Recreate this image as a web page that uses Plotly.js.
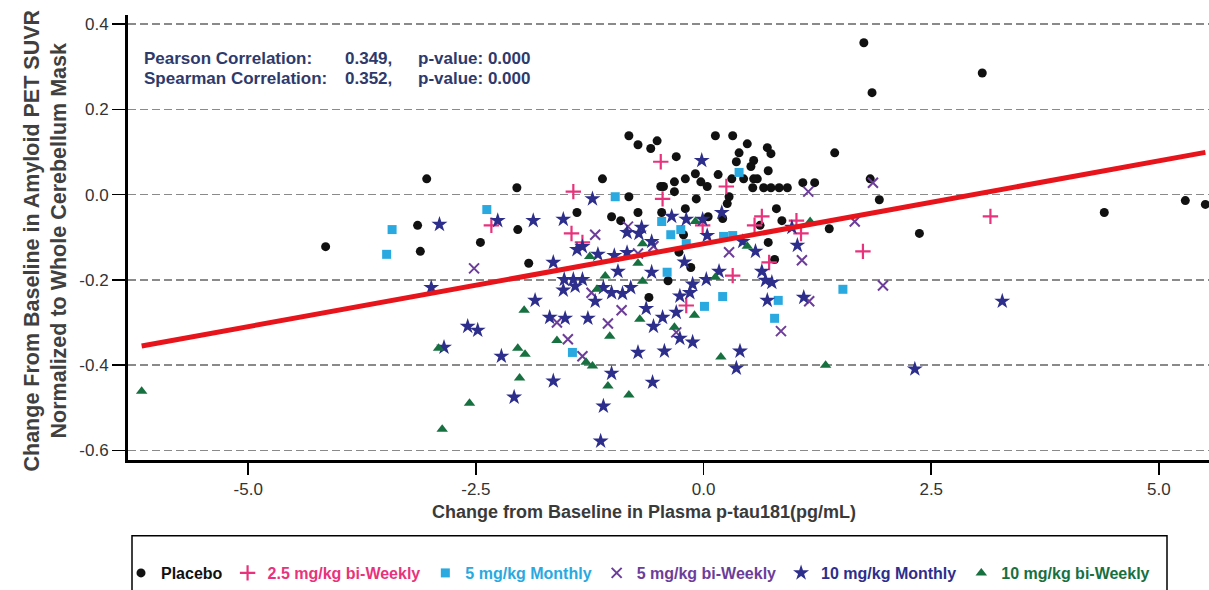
<!DOCTYPE html>
<html>
<head>
<meta charset="utf-8">
<script src="https://cdn.plot.ly/plotly-3.0.1.min.js"></script>
<style>html,body{margin:0;padding:0;background:#fff;}#chart{width:1209px;height:590px;}</style>
</head>
<body>
<div id="chart"></div>
<script>
// ---- Data ----
const seriesNames = ["Placebo", "2.5 mg/kg bi-Weekly", "5 mg/kg Monthly", "5 mg/kg bi-Weekly", "10 mg/kg Monthly", "10 mg/kg bi-Weekly"];

const placeboX = [-4.15, -3.04, -2.05, -3.14, -2.04, -2.45, -3.11, -1.92, -0.82, -0.72, -0.51, -0.58, 0.13, 0.32, 0.39, -0.30, 0.36, -1.11, -0.20, -0.09, -0.03, -0.32, -0.47, -0.44, -0.32, 0.04, 0.16, 0.31, 0.28, 0.26, -0.82, -0.08, -1.39, -1.01, -0.91, -0.72, -0.46, -0.20, 0.05, 0.21, -0.22, -0.27, -0.14, -0.39, -0.60, 0.48, 0.70, 0.74, 1.44, 0.55, 0.52, 0.71, 0.44, 0.55, 0.59, 0.54, 0.66, 0.74, 0.83, 0.92, 1.09, 1.22, 1.83, 1.93, 0.80, 0.86, 0.62, 1.38, 2.37, 0.71, 0.78, 3.06, 4.40, 5.29, 5.51, 1.76, 1.85];
const placeboY = [-0.122, 0.037, 0.016, -0.072, -0.082, -0.112, -0.133, -0.161, 0.138, 0.117, 0.126, 0.108, 0.138, 0.138, 0.098, 0.089, 0.077, 0.037, 0.037, 0.049, 0.030, 0.030, 0.019, 0.019, 0.007, 0.019, 0.047, 0.037, -0.005, -0.021, -0.005, -0.010, -0.042, -0.052, -0.061, -0.042, -0.042, -0.033, -0.052, -0.056, -0.094, -0.135, -0.171, -0.202, -0.241, 0.119, 0.110, 0.096, 0.098, 0.080, 0.066, 0.056, 0.037, 0.037, 0.037, 0.016, 0.016, 0.016, 0.016, 0.016, 0.028, 0.028, 0.037, -0.012, -0.033, -0.061, -0.072, -0.080, -0.091, -0.112, -0.152, 0.285, -0.042, -0.014, -0.023, 0.356, 0.239];

const biweekly25X = [-2.33, -0.47, 0.25, -1.43, -0.45, -0.01, -1.45, -1.33, 0.32, -0.19, 0.64, 1.02, 0.56, 1.07, 1.75, 0.72, 3.15];
const biweekly25Y = [-0.072, 0.077, 0.019, 0.007, -0.010, -0.072, -0.091, -0.112, -0.190, -0.260, -0.051, -0.061, -0.072, -0.091, -0.133, -0.159, -0.051];

const monthly5X = [-3.42, -3.48, -2.38, -0.97, -0.46, -0.36, -0.25, -0.19, 0.22, 0.32, -0.40, 0.01, 0.21, -1.44, 0.39, 1.53, 0.82, 0.78];
const monthly5Y = [-0.082, -0.140, -0.035, -0.005, -0.063, -0.094, -0.082, -0.115, -0.098, -0.096, -0.182, -0.262, -0.239, -0.370, 0.052, -0.222, -0.248, -0.290];

const biweekly5X = [-2.52, -1.61, -0.83, -1.19, -0.55, -0.72, 0.28, -1.23, -0.90, -1.05, -0.30, -1.49, -1.33, 1.15, 1.86, 1.66, 1.08, 1.97, 1.16, 0.85];
const biweekly5Y = [-0.173, -0.300, -0.075, -0.094, -0.121, -0.138, -0.135, -0.230, -0.271, -0.302, -0.323, -0.339, -0.379, 0.007, 0.028, -0.063, -0.154, -0.213, -0.250, -0.320];

const monthly10X = [-2.90, -2.26, -1.87, -1.65, -2.99, -1.85, -1.69, -2.59, -2.48, -2.85, -2.22, -1.65, -2.08,
  -0.02, -1.22, 0.20, -1.54, -0.35, -0.19, -0.01, -0.84, -0.68, -0.71, 0.04, -1.33, -1.39, -0.57, -1.16, -0.98, -0.84, -0.21, -0.94, -0.57, 0.17, 0.03, -1.53, -1.43, -1.33, -1.54, -1.41, -1.19, -1.10, -1.01, -0.89, -0.80, -0.26, -0.15, -0.12, -0.63, -0.30, -1.52, -1.27, -0.45, -0.55, -0.26, -0.12, -0.72, -0.43, 0.36, -1.01, -0.56, -1.10, -1.13,
  0.43, 0.57, 1.03, 0.97, 0.64, 0.68, 0.75, 0.70, 1.10, 0.40, 2.32, 3.28];
const monthly10Y = [-0.070, -0.061, -0.061, -0.159, -0.218, -0.248, -0.288, -0.309, -0.318, -0.358, -0.379, -0.437, -0.475,
  0.080, -0.010, -0.042, -0.058, -0.051, -0.058, -0.058, -0.089, -0.077, -0.091, -0.096, -0.122, -0.129, -0.110, -0.140, -0.143, -0.136, -0.158, -0.180, -0.182, -0.180, -0.199, -0.199, -0.199, -0.199, -0.224, -0.215, -0.250, -0.218, -0.230, -0.232, -0.218, -0.238, -0.230, -0.210, -0.267, -0.276, -0.290, -0.290, -0.288, -0.309, -0.337, -0.346, -0.370, -0.367, -0.407, -0.419, -0.440, -0.496, -0.578,
  -0.110, -0.133, -0.119, -0.077, -0.180, -0.201, -0.206, -0.248, -0.241, -0.367, -0.409, -0.250];

const biweekly10X = [-6.17, -1.97, -2.91, -2.04, -1.96, -1.61, -2.02, -2.57, -2.87, -0.09, -0.67, -1.25, -0.72, 0.13, -1.08, -1.17, -0.67, -0.10, -0.70, -0.32, -1.03, -1.29, -1.22, 0.19, -1.05, -0.82, 1.17, 0.48, 1.34];
const biweekly10Y = [-0.461, -0.271, -0.360, -0.360, -0.374, -0.342, -0.430, -0.489, -0.550, -0.063, -0.115, -0.145, -0.161, -0.194, -0.191, -0.222, -0.203, -0.283, -0.292, -0.311, -0.332, -0.393, -0.402, -0.381, -0.449, -0.470, -0.063, -0.121, -0.400];

// regression line end points
const fitX = [-6.17, 5.51];
const fitY = [-0.355, 0.099];

const statLabels = ["Pearson Correlation:", "Spearman Correlation:"];
const statValues = ["0.349,", "0.352,"];
const statPvalues = ["p-value: 0.000", "p-value: 0.000"];

const xTickVals = [-5.0, -2.5, 0.0, 2.5, 5.0];
const xTickText = ["-5.0", "-2.5", "0.0", "2.5", "5.0"];
const yTickVals = [-0.6, -0.4, -0.2, 0.0, 0.2, 0.4];
const yTickText = ["-0.6", "-0.4", "-0.2", "0.0", "0.2", "0.4"];

// ---- Styles ----
const colors = ["#111111", "#e8337c", "#29a9e0", "#6c3d9a", "#2d2e8c", "#17703f"];
const FONT = "Liberation Sans, Arial, Helvetica, sans-serif";

function legendName(i) {
  return '<span style="color:' + colors[i] + '">' + seriesNames[i] + '</span>';
}

const traces = [
  {x: placeboX, y: placeboY, type: "scatter", mode: "markers", name: legendName(0),
   marker: {symbol: "circle", size: 9, color: colors[0]}},
  {x: biweekly25X, y: biweekly25Y, type: "scatter", mode: "markers", name: legendName(1),
   marker: {symbol: "cross-thin-open", size: 11, color: colors[1], line: {width: 2.2, color: colors[1]}}},
  {x: monthly5X, y: monthly5Y, type: "scatter", mode: "markers", name: legendName(2),
   marker: {symbol: "square", size: 9, color: colors[2]}},
  {x: biweekly5X, y: biweekly5Y, type: "scatter", mode: "markers", name: legendName(3),
   marker: {symbol: "x-thin-open", size: 10, color: colors[3], line: {width: 2, color: colors[3]}}},
  {x: monthly10X, y: monthly10Y, type: "scatter", mode: "markers", name: legendName(4),
   marker: {symbol: "star", size: 12, color: colors[4]}},
  {x: biweekly10X, y: biweekly10Y, type: "scatter", mode: "markers", name: legendName(5),
   marker: {symbol: "triangle-up", size: 10, color: colors[5]}},
  {x: fitX, y: fitY, type: "scatter", mode: "lines", showlegend: false,
   line: {color: "#e8141c", width: 5}}
];

const W = 1209, H = 590;
const L = 128, R = 0, T = 15, B = 129;
const pw = W - L - R, ph = H - T - B;
const px = v => (v - L) / pw;          // pixel -> paper x
const py = v => (H - B - v) / ph;      // pixel -> paper y

const textColor = "#2e3a6b";
const annotations = [];
for (let i = 0; i < statLabels.length; i++) {
  const yy = py(59 + i * 20);
  annotations.push({xref: "paper", yref: "paper", x: px(142), y: yy, xanchor: "left", yanchor: "middle", showarrow: false,
    text: statLabels[i], font: {family: FONT, size: 17, color: textColor, weight: "bold"}});
  annotations.push({xref: "paper", yref: "paper", x: px(343), y: yy, xanchor: "left", yanchor: "middle", showarrow: false,
    text: statValues[i], font: {family: FONT, size: 17, color: textColor, weight: "bold"}});
  annotations.push({xref: "paper", yref: "paper", x: px(416), y: yy, xanchor: "left", yanchor: "middle", showarrow: false,
    text: statPvalues[i], font: {family: FONT, size: 17, color: textColor, weight: "bold"}});
}
// axis titles
annotations.push({xref: "paper", yref: "paper", x: px(644), y: py(513), xanchor: "center", yanchor: "middle", showarrow: false,
  text: "Change from Baseline in Plasma p-tau181(pg/mL)", font: {family: FONT, size: 18, color: "#3a3a3a", weight: "bold"}});
annotations.push({xref: "paper", yref: "paper", x: px(46), y: py(241), xanchor: "center", yanchor: "middle", showarrow: false,
  textangle: -90,
  text: "Change From Baseline in Amyloid PET SUVR<br>Normalized to Whole Cerebellum Mask",
  font: {family: FONT, size: 21.5, color: "#404040", weight: "bold"}});

const layout = {
  width: W, height: H,
  margin: {l: L, r: R, t: T, b: B, pad: 0},
  paper_bgcolor: "#ffffff", plot_bgcolor: "#ffffff",
  font: {family: FONT, color: "#333333"},
  showlegend: true,
  legend: {orientation: "h", x: px(121), xanchor: "left", y: py(557), yanchor: "top",
    font: {family: FONT, size: 16, weight: "bold", color: "#111"}, bgcolor: "rgba(0,0,0,0)", borderwidth: 0,
    itemclick: false},
  xaxis: {range: [-6.32, 5.55], tickvals: xTickVals, ticktext: xTickText, ticks: "outside", ticklen: 12, tickwidth: 1.5,
    tickcolor: "#000", showline: true, linecolor: "#000", linewidth: 3, showgrid: false, zeroline: false,
    tickfont: {family: FONT, size: 17, color: "#333"}, mirror: false},
  yaxis: {range: [-0.6222, 0.4211], tickvals: yTickVals, ticktext: yTickText, ticks: "outside", ticklen: 13, tickwidth: 1.5,
    tickcolor: "#000", showline: true, linecolor: "#000", linewidth: 3, showgrid: true, gridcolor: "#8a8a8a",
    gridwidth: 1.5, griddash: "8px,4px", zeroline: false,
    tickfont: {family: FONT, size: 17, color: "#333"}},
  annotations: annotations,
  shapes: [{type: "rect", xref: "paper", yref: "paper", x0: px(132), x1: px(1167), y0: py(537), y1: py(605),
    line: {color: "#000", width: 1.5}, fillcolor: "rgba(0,0,0,0)"}]
};

Plotly.newPlot("chart", traces, layout, {displayModeBar: false, staticPlot: true});
</script>
</body>
</html>
